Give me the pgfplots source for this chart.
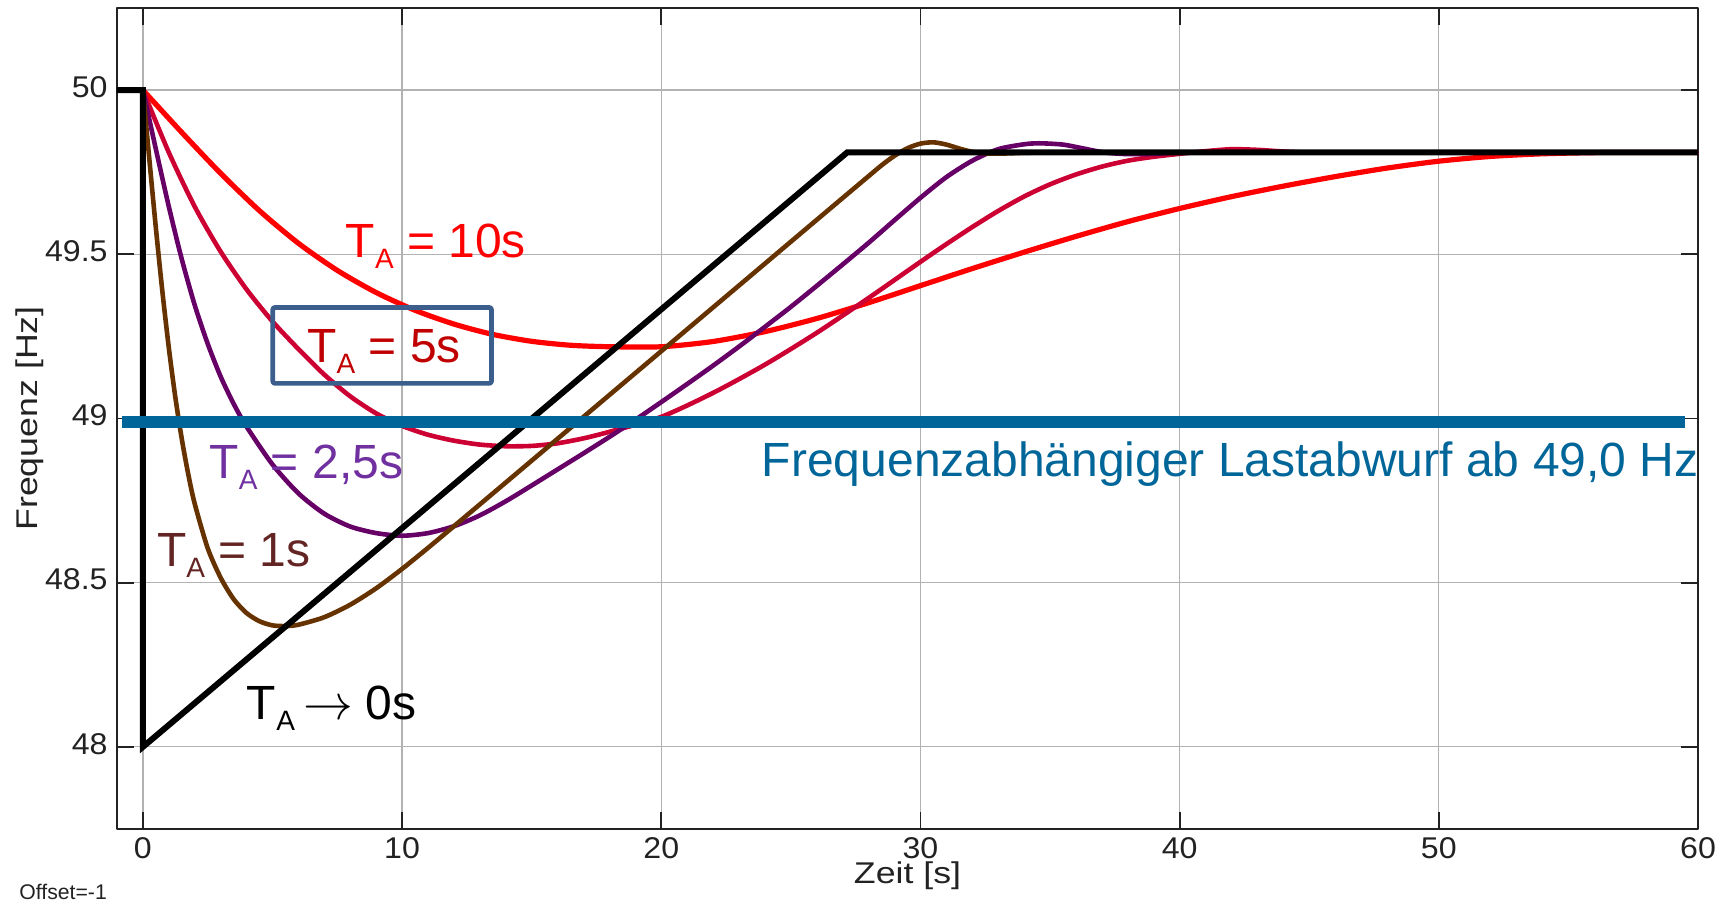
\documentclass[border=0pt]{standalone}
\usepackage{fontspec}
\setmainfont{Liberation Sans}
\usepackage{graphicx}
\usepackage{pgfplots}
\pgfplotsset{compat=1.18}
\definecolor{cRed}{RGB}{255,0,0}
\definecolor{cCrim}{RGB}{204,0,51}
\definecolor{cPurp}{RGB}{102,0,102}
\definecolor{cBrown}{RGB}{102,51,0}
\definecolor{cBlue}{RGB}{0,102,153}
\definecolor{cBox}{RGB}{59,94,140}
\definecolor{tPurp}{RGB}{112,48,160}
\definecolor{tBrown}{RGB}{99,37,35}
\definecolor{tRed}{RGB}{192,0,0}
\definecolor{axgray}{RGB}{34,34,34}
\newcommand{\TA}{T\raisebox{-5.5pt}{\fontsize{14}{14}\selectfont A}}
\newcommand{\anno}{\fontsize{24}{28}\selectfont}
\newcommand{\tickfont}{\fontsize{15}{18}\selectfont}
\newcommand{\sx}[1]{\scalebox{1.07}[1]{#1}}
\begin{document}
\begin{tikzpicture}
\useasboundingbox (-58.5pt,-37.5pt) rectangle (807pt,414.5pt);
\begin{axis}[
  at={(0,0)}, anchor=south west,
  scale only axis, width=790.5pt, height=410.5pt,
  xmin=-1, xmax=60, ymin=47.75, ymax=50.25,
  xtick={0,10,20,30,40,50,60},
  xticklabels={\sx{0},\sx{10},\sx{20},\sx{30},\sx{40},\sx{50},\sx{60}},
  ytick={48,48.5,49,49.5,50},
  yticklabels={\sx{48},\sx{48.5},\sx{49},\sx{49.5},\sx{50}},
  grid=major, major grid style={gray!60, line width=0.6pt},
  tick align=inside, major tick length=8.5pt,
  tick style={axgray, line width=0.9pt},
  axis line style={axgray, line width=0.9pt},
  ticklabel style={font=\tickfont, text=axgray},
  xticklabel style={anchor=north, inner sep=0pt, yshift=-3.9pt},
  yticklabel style={anchor=east, inner sep=0pt, xshift=-4.5pt, yshift=1.6pt},
  xlabel={\scalebox{1.19}[1]{Zeit [s]}},
  xlabel style={at={(axis description cs:0.5,-0.0658)}, anchor=base, font=\tickfont, text=axgray, inner sep=0pt},
  ylabel={\scalebox{1.19}[1]{Frequenz [Hz]}},
  ylabel style={at={(axis description cs:-0.0506,0.5)}, anchor=base, rotate=0, font=\tickfont, text=axgray, inner sep=0pt},
  /pgf/number format/assume math mode=true,
  line join=round,
]
% T_A = 10 s
\addplot[cRed, line width=2.6pt, smooth, tension=0.45] coordinates {
(0,50) (1.5,49.871) (3,49.7465) (4.5,49.6325) (6,49.5335) (7.5,49.451)
(9,49.3835) (10.5,49.3295) (12,49.2875) (13.5,49.256) (15,49.235)
(16.5,49.223) (18,49.2185) (20,49.2185) (22,49.2345) (24,49.2645)
(26,49.3045) (28,49.3525) (30,49.4045) (32,49.4565) (34,49.5065)
(36,49.5545) (38,49.5995) (40,49.6395) (42,49.6755) (44,49.7075)
(46,49.7365) (48,49.7625) (50,49.7835) (52,49.798) (54,49.806)
(56,49.8095) (58,49.81) (60,49.81)};
% T_A = 5 s
\addplot[cCrim, line width=2.3pt, smooth, tension=0.45] coordinates {
(0,50) (1,49.81) (2,49.645) (3,49.508) (4,49.393) (5,49.2955) (6,49.2115)
(7,49.1335) (8,49.0675) (9,49.0155) (10,48.9775) (11,48.9505) (12,48.9325)
(13,48.9205) (14,48.9155) (15,48.9165) (16,48.9245) (17,48.9395)
(18,48.9595) (20,49.005) (22,49.078) (24,49.164) (26,49.261) (28,49.367)
(30,49.477) (31,49.531) (32,49.583) (33,49.632) (34,49.676) (35,49.713)
(36,49.743) (37,49.767) (38,49.785) (39,49.797) (40,49.806) (41,49.814)
(42,49.82) (43,49.818) (44,49.813) (45,49.81) (47,49.81) (50,49.81)
(55,49.81) (60,49.81)};
% T_A = 2.5 s
\addplot[cPurp, line width=2.3pt, smooth, tension=0.45] coordinates {
(0,50) (0.5,49.82) (1,49.645) (1.5,49.485) (2,49.345) (2.5,49.2275)
(3,49.1275) (3.5,49.045) (4,48.975) (5,48.86) (6,48.772) (7,48.71)
(8,48.671) (9,48.651) (10,48.643) (11,48.651) (12,48.672) (13,48.705)
(14,48.748) (15,48.796) (16,48.845) (17,48.894) (18,48.944) (19,48.996)
(20,49.05) (21,49.105) (22,49.161) (23,49.219) (24,49.279) (25,49.34)
(26,49.404) (27,49.469) (28,49.535) (29,49.604) (30,49.672) (31,49.735)
(32,49.785) (33,49.82) (34,49.835) (34.6,49.838) (35.5,49.834)
(36.3,49.822) (37.1,49.81) (38,49.805) (39,49.806) (40,49.81) (42,49.81)
(45,49.81) (50,49.81) (60,49.81)};
% T_A = 1 s
\addplot[cBrown, line width=2.3pt, smooth, tension=0.45] coordinates {
(0,50) (0.25,49.7875) (0.5,49.58) (0.75,49.3875) (1,49.215) (1.25,49.065)
(1.5,48.9375) (1.75,48.83) (2,48.74) (2.5,48.605) (3,48.515) (3.5,48.45)
(4,48.4075) (4.5,48.3825) (5,48.37) (5.5,48.368) (6,48.372) (7,48.395)
(8,48.433) (9,48.483) (10,48.542) (11,48.606) (12,48.672) (14,48.805)
(17,49.005) (20,49.205) (23,49.405) (26,49.605) (28,49.738) (28.5,49.771)
(29,49.80) (29.5,49.823) (30,49.837) (30.5,49.841) (31,49.834)
(31.5,49.822) (32,49.812) (32.6,49.807) (33.3,49.807) (34,49.809)
(35,49.81) (36,49.81) (38,49.81) (42,49.81) (50,49.81) (60,49.81)};
% T_A -> 0 s
\addplot[black, line width=3pt, line join=miter] coordinates {
(-1,50) (0,50) (0,48) (27.17,49.81) (60,49.81)};
% load shedding threshold
\addplot[cBlue, line width=5.85pt] coordinates {(-0.82,48.99) (59.5,48.99)};

\draw[cBox, line width=2.3pt, rounded corners=1pt]
  (axis cs:5.01,49.338) rectangle (axis cs:13.45,49.107);

\node[anchor=base west, inner sep=0pt, text=cRed, font=\anno] at (axis cs:7.81,49.491) {\TA{} = 10s};
\node[anchor=base west, inner sep=0pt, text=tRed, font=\anno] at (axis cs:6.33,49.170) {\TA{} = 5s};
\node[anchor=base west, inner sep=0pt, text=tPurp, font=\anno] at (axis cs:2.56,48.818) {\TA{} = 2,5s};
\node[anchor=base west, inner sep=0pt, text=tBrown, font=\anno] at (axis cs:0.53,48.55) {\TA{} = 1s};
\node[anchor=base west, inner sep=0pt, text=black, font=\anno] at (axis cs:4.0,48.082) {\TA\hspace{4.2pt}$\rightarrow$\hspace{6.4pt}0s};
\node[anchor=base west, inner sep=0pt, text=cBlue, font=\anno] at (axis cs:23.87,48.823) {Frequenzabhängiger Lastabwurf ab 49,0 Hz};
\end{axis}
\node[anchor=base west, inner sep=0pt, text=axgray, font=\fontsize{10.6}{12}\selectfont] at (-49pt,-35.5pt) {Offset=-1};
\end{tikzpicture}
\end{document}
